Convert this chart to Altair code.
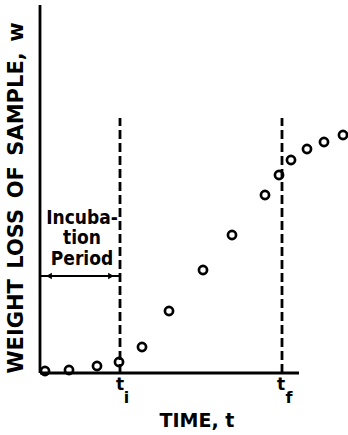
import altair as alt
import pandas as pd

# Data (time t, weight loss w) in arbitrary units
t_vals = [0.25, 1.45, 2.85, 3.95, 5.1, 6.45, 8.15, 9.6, 11.25, 11.95, 12.55, 13.35, 14.2, 15.15]
w_vals = [0.1, 0.15, 0.35, 0.55, 1.3, 3.1, 5.15, 6.9, 8.9, 9.9, 10.65, 11.2, 11.55, 11.9]

t_i = 4.0
t_f = 12.1
dash_top = 12.75
y_axis_top = 18.4
x_axis_end = 12.95
arrow_w = 4.85

incub_lines = ["Incuba-", "tion", "Period"]
incub_w = [7.45, 6.45, 5.4]
incub_t = 2.1

XD = [-2.0, 15.4]
YD = [-3.1, 18.65]

def X(f="t"):
    return alt.X(f"{f}:Q", axis=None, scale=alt.Scale(domain=XD, nice=False, zero=False))

def Y(f="w"):
    return alt.Y(f"{f}:Q", axis=None, scale=alt.Scale(domain=YD, nice=False, zero=False))

pts = pd.DataFrame({"t": t_vals, "w": w_vals})

points = alt.Chart(pts).mark_point(shape="circle", filled=False, color="black",
                                   size=66, strokeWidth=2.7, opacity=1).encode(x=X(), y=Y())

# axes lines
yaxis = alt.Chart(pd.DataFrame({"t": [0], "w": [0], "w2": [y_axis_top]})).mark_rule(
    color="black", strokeWidth=2.8).encode(x=X(), y=Y(), y2="w2:Q")
xaxis = alt.Chart(pd.DataFrame({"t": [0], "t2": [x_axis_end], "w": [0]})).mark_rule(
    color="black", strokeWidth=2.8).encode(x=X(), x2="t2:Q", y=Y())

# dashed markers
dashes = alt.Chart(pd.DataFrame({"t": [t_i, t_f], "w": [0, 0], "w2": [dash_top, dash_top]})).mark_rule(
    color="black", strokeWidth=2.8, strokeDash=[9, 4]).encode(x=X(), y=Y(), y2="w2:Q")

# incubation arrow
arrow = alt.Chart(pd.DataFrame({"t": [0], "t2": [t_i], "w": [arrow_w]})).mark_rule(
    color="black", strokeWidth=2.2).encode(x=X(), x2="t2:Q", y=Y())
heads = alt.Chart(pd.DataFrame({"t": [0.45, t_i - 0.45], "w": [arrow_w, arrow_w],
                                "s": ["triangle-left", "triangle-right"]})).mark_point(
    filled=True, color="black", size=45, opacity=1).encode(
    x=X(), y=Y(), shape=alt.Shape("s:N", scale=None, legend=None))

incub = alt.Chart(pd.DataFrame({"t": [incub_t] * 3, "w": incub_w, "txt": incub_lines})).mark_text(
    font="DejaVu Sans Condensed", fontWeight="bold", fontSize=19, align="center",
    baseline="alphabetic", color="black").encode(x=X(), y=Y(), text="txt:N")

# tick labels t_i, t_f
tl = alt.Chart(pd.DataFrame({"t": [t_i, t_f - 0.05], "w": [-0.85, -0.85], "txt": ["t", "t"]})).mark_text(
    font="DejaVu Sans", fontWeight="bold", fontSize=17, align="center",
    baseline="alphabetic", color="black").encode(x=X(), y=Y(), text="txt:N")
sub = alt.Chart(pd.DataFrame({"t": [t_i + 0.33, t_f + 0.35], "w": [-1.5, -1.5], "txt": ["i", "f"]})).mark_text(
    font="DejaVu Sans", fontWeight="bold", fontSize=16, align="center",
    baseline="alphabetic", color="black").encode(x=X(), y=Y(), text="txt:N")

xtitle = alt.Chart(pd.DataFrame({"t": [7.85], "w": [-2.7], "txt": ["TIME, t"]})).mark_text(
    font="DejaVu Sans", fontWeight="bold", fontSize=19, align="center",
    baseline="alphabetic", color="black").encode(x=X(), y=Y(), text="txt:N")
ytitle = alt.Chart(pd.DataFrame({"t": [-1.175], "w": [8.75],
                                 "txt": ["WEIGHT\u2002LOSS\u2002OF\u2002SAMPLE,\u2002w"]})).mark_text(
    font="DejaVu Sans", fontWeight="bold", fontSize=21, align="center", angle=270,
    baseline="middle", color="black").encode(x=X(), y=Y(), text="txt:N")

chart = alt.layer(yaxis, xaxis, dashes, arrow, heads, points, incub, tl, sub, xtitle, ytitle).properties(
    width=348, height=435, autosize=alt.AutoSizeParams(type="none"), padding=0,
    background="white"
).configure_view(stroke=None)

chart.save("out.html", embed_options={"renderer": "svg", "actions": False})
